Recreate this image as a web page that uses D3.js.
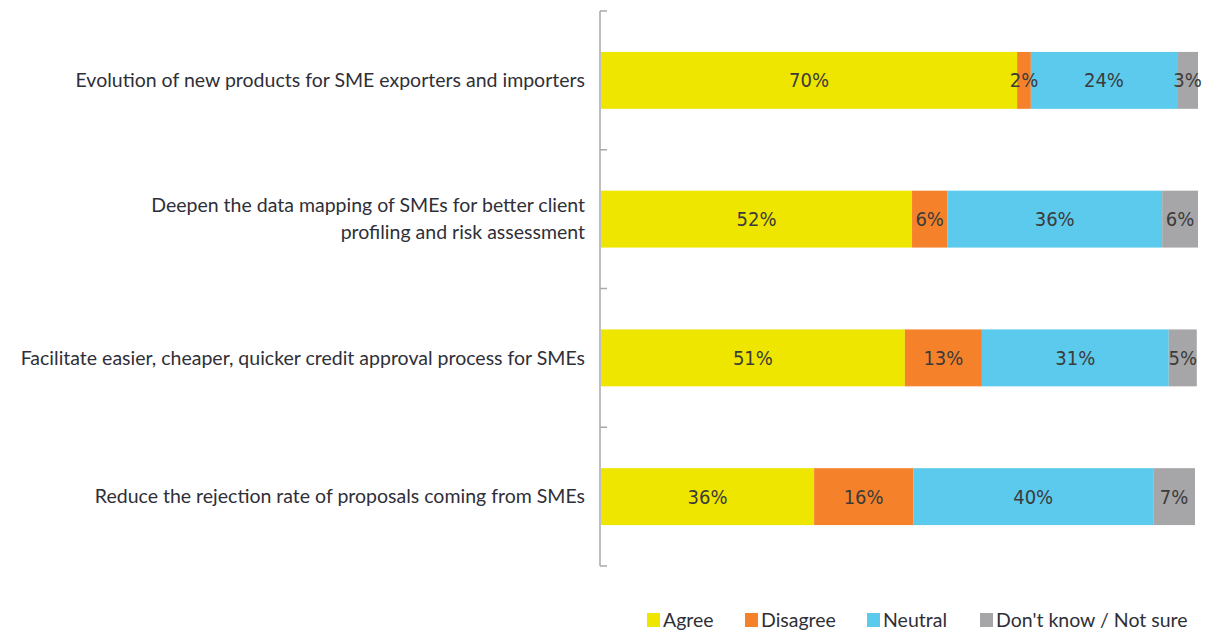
<!DOCTYPE html>
<html>
<head>
<meta charset="utf-8">
<script src="https://cdn.jsdelivr.net/npm/d3@7"></script>
<style>
  body { margin: 0; background: #fff; }
  svg { display: block; }
</style>
</head>
<body>
<svg width="1208" height="633"></svg>
<script>
// categories, top to bottom
const categories = [
  ['Evolution of new products for SME exporters and importers'],
  ['Deepen the data mapping of SMEs for better client', 'profiling and risk assessment'],
  ['Facilitate easier, cheaper, quicker credit approval process for SMEs'],
  ['Reduce the rejection rate of proposals coming from SMEs']
];
const seriesNames = ['Agree', 'Disagree', 'Neutral', "Don't know / Not sure"];
const seriesColors = ['#efe600', '#f5822b', '#5ccaec', '#a6a6a9'];

// segment widths as drawn (percent), one array per series
const agree    = [69.7, 52.1, 50.9, 35.7];
const disagree = [2.3, 5.9, 12.9, 16.6];
const neutral  = [24.5, 36.0, 31.3, 40.2];
const dontKnow = [3.5, 6.0, 4.7, 7.0];

// printed labels
const agreeLbl    = ['70%', '52%', '51%', '36%'];
const disagreeLbl = ['2%', '6%', '13%', '16%'];
const neutralLbl  = ['24%', '36%', '31%', '40%'];
const dontKnowLbl = ['3%', '6%', '5%', '7%'];

const values = [agree, disagree, neutral, dontKnow];
const labels = [agreeLbl, disagreeLbl, neutralLbl, dontKnowLbl];

const svg = d3.select('svg');
const axisX = 600;

const y = d3.scaleBand()
  .domain(d3.range(categories.length))
  .range([11, 566])
  .paddingInner(0.59)
  .paddingOuter(0.295);

const x = d3.scaleLinear()
  .domain([0, 100])
  .range([axisX + 1, 1198]);

// stacked rows
const rows = categories.map((c, i) => {
  let acc = 0;
  return values.map((s, k) => {
    const seg = { row: i, k: k, x0: acc, x1: acc + s[i], label: labels[k][i] };
    acc += s[i];
    return seg;
  });
}).flat();

svg.append('g')
  .selectAll('rect')
  .data(rows)
  .join('rect')
  .attr('x', d => x(d.x0))
  .attr('y', d => y(d.row))
  .attr('width', d => x(d.x1) - x(d.x0))
  .attr('height', y.bandwidth())
  .attr('fill', d => seriesColors[d.k]);

svg.append('g')
  .selectAll('text')
  .data(rows)
  .join('text')
  .attr('x', d => (x(d.x0) + x(d.x1)) / 2)
  .attr('y', d => y(d.row) + y.bandwidth() / 2)
  .attr('dy', '0.35em')
  .attr('text-anchor', 'middle')
  .attr('font-family', '"Liberation Sans Narrow", "DejaVu Sans Condensed", sans-serif')
  .attr('font-size', 20)
  .attr('fill', '#3b3b3b')
  .text(d => d.label);

// axis line with ticks at band boundaries
const step = y.step();
const tickYs = d3.range(categories.length + 1).map(i => y.range()[0] + i * step);
const axis = svg.append('g').attr('stroke', '#a9a9ad').attr('stroke-width', 1.5);
axis.append('line')
  .attr('x1', axisX).attr('x2', axisX)
  .attr('y1', tickYs[0]).attr('y2', tickYs[tickYs.length - 1]);
axis.selectAll('.tick')
  .data(tickYs)
  .join('line')
  .attr('class', 'tick')
  .attr('x1', axisX).attr('x2', axisX + 7)
  .attr('y1', d => d).attr('y2', d => d);

// category labels
const catFont = 'Lato, sans-serif';
svg.append('g')
  .selectAll('text')
  .data(categories)
  .join('text')
  .attr('text-anchor', 'end')
  .attr('font-family', catFont)
  .attr('font-size', 19.5)
  .attr('fill', '#2f2f38')
  .each(function(lines, i) {
    const cy = y(i) + y.bandwidth() / 2;
    const lh = 27;
    const top = cy - (lines.length - 1) * lh / 2;
    d3.select(this).selectAll('tspan')
      .data(lines)
      .join('tspan')
      .attr('x', axisX - 15)
      .attr('y', (l, j) => top + j * lh)
      .attr('dy', '0.35em')
      .text(l => l);
  });

// legend
const legendX = [647, 745, 867, 980];
const legend = svg.append('g')
  .selectAll('g')
  .data(seriesNames)
  .join('g')
  .attr('transform', (d, i) => `translate(${legendX[i]},620)`);
legend.append('rect')
  .attr('x', 0).attr('y', -7)
  .attr('width', 13).attr('height', 14)
  .attr('fill', (d, i) => seriesColors[i]);
legend.append('text')
  .attr('x', 16)
  .attr('dy', '0.35em')
  .attr('font-family', catFont)
  .attr('font-size', 19.5)
  .attr('fill', '#2f2f38')
  .text(d => d);
</script>
</body>
</html>
